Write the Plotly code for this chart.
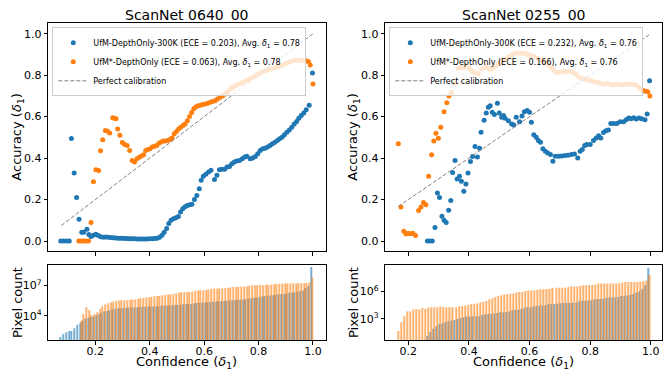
import plotly.graph_objects as go

BLUE = "#1f77b4"
ORANGE = "#ff7f0e"
FONT = "DejaVu Sans"

TITLES = ["ScanNet 0640_00", "ScanNet 0255_00"]
D1 = "<i>δ</i><sub>1</sub>"
LEG_BLUE = ["UfM-DepthOnly-300K (ECE = 0.203), Avg. " + D1 + " = 0.78",
            "UfM-DepthOnly-300K (ECE = 0.232), Avg. " + D1 + " = 0.76"]
LEG_ORANGE = ["UfM*-DepthOnly (ECE = 0.063), Avg. " + D1 + " = 0.78",
              "UfM*-DepthOnly (ECE = 0.166), Avg. " + D1 + " = 0.76"]
LEG_CAL = "Perfect calibration"

# ---- reliability scatter data (confidence, accuracy) ----
LB_X = [0.073, 0.083, 0.094, 0.104, 0.112, 0.122, 0.131, 0.140, 0.150, 0.157, 0.169, 0.176, 0.184, 0.193,
        0.202, 0.211, 0.220, 0.229, 0.238, 0.247, 0.256, 0.265, 0.274, 0.283, 0.292, 0.301, 0.310, 0.319,
        0.328, 0.337, 0.346, 0.355, 0.364, 0.373, 0.382, 0.391, 0.400, 0.409, 0.418, 0.427, 0.436, 0.445,
        0.453, 0.462, 0.470, 0.478, 0.487, 0.496, 0.505, 0.513, 0.521, 0.530, 0.538, 0.547, 0.555, 0.564,
        0.573, 0.582, 0.589, 0.597, 0.606, 0.616, 0.625, 0.638, 0.647, 0.656, 0.665, 0.675, 0.684, 0.693,
        0.702, 0.711, 0.720, 0.730, 0.740, 0.749, 0.757, 0.769, 0.778, 0.788, 0.797, 0.806, 0.815, 0.824,
        0.833, 0.842, 0.851, 0.860, 0.869, 0.877, 0.886, 0.895, 0.904, 0.913, 0.922, 0.931, 0.940, 0.948,
        0.957, 0.966, 0.975, 0.986, 0.998]
LB_Y = [0.0, 0.0, 0.0, 0.0, 0.494, 0.328, 0.21, 0.105, 0.042, 0.042, 0.057, 0.031, 0.022, 0.028,
        0.033, 0.027, 0.021, 0.018, 0.019, 0.018, 0.017, 0.016, 0.015, 0.014, 0.013, 0.013, 0.012, 0.012,
        0.011, 0.011, 0.011, 0.010, 0.010, 0.010, 0.010, 0.010, 0.011, 0.011, 0.012, 0.013, 0.018, 0.028,
        0.042, 0.060, 0.085, 0.100, 0.107, 0.112, 0.118, 0.140, 0.156, 0.165, 0.172, 0.175, 0.177, 0.200,
        0.220, 0.252, 0.293, 0.312, 0.322, 0.333, 0.341, 0.297, 0.317, 0.344, 0.346, 0.346, 0.357, 0.360,
        0.373, 0.381, 0.386, 0.389, 0.397, 0.405, 0.409, 0.397, 0.400, 0.408, 0.421, 0.437, 0.445, 0.448,
        0.453, 0.461, 0.469, 0.477, 0.485, 0.493, 0.501, 0.512, 0.525, 0.536, 0.549, 0.565, 0.577, 0.592,
        0.605, 0.618, 0.633, 0.655, 0.81]

LO_X = [0.139, 0.148, 0.157, 0.166, 0.175, 0.184, 0.193, 0.202, 0.212, 0.219, 0.227, 0.237, 0.245, 0.253,
        0.264, 0.270, 0.276, 0.282, 0.290, 0.299, 0.308, 0.317, 0.326, 0.335, 0.344, 0.353, 0.361, 0.369,
        0.377, 0.385, 0.393, 0.401, 0.409, 0.417, 0.425, 0.434, 0.442, 0.450, 0.458, 0.466, 0.474, 0.482,
        0.490, 0.498, 0.506, 0.514, 0.522, 0.530, 0.538, 0.546, 0.554, 0.562, 0.570, 0.578, 0.587, 0.595,
        0.604, 0.613, 0.622, 0.631, 0.640, 0.649, 0.659, 0.668, 0.677, 0.686, 0.696, 0.705, 0.714, 0.723,
        0.733, 0.742, 0.751, 0.760, 0.770, 0.779, 0.788, 0.797, 0.807, 0.816, 0.825, 0.834, 0.844, 0.853,
        0.862, 0.871, 0.881, 0.890, 0.900, 0.909, 0.918, 0.928, 0.937, 0.946, 0.955, 0.964, 0.974, 0.983,
        0.990, 1.000]
LO_Y = [0.0, 0.0, 0.0, 0.0, 0.0, 0.09, 0.286, 0.344, 0.340, 0.435, 0.488, 0.533, 0.529, 0.521,
        0.594, 0.592, 0.590, 0.540, 0.510, 0.475, 0.466, 0.461, 0.437, 0.389, 0.381, 0.397, 0.404, 0.410,
        0.416, 0.437, 0.441, 0.445, 0.453, 0.457, 0.461, 0.472, 0.478, 0.482, 0.482, 0.485, 0.490, 0.497,
        0.517, 0.528, 0.540, 0.549, 0.557, 0.565, 0.580, 0.600, 0.620, 0.638, 0.648, 0.653, 0.655, 0.658,
        0.661, 0.665, 0.669, 0.673, 0.677, 0.685, 0.693, 0.701, 0.709, 0.720, 0.733, 0.741, 0.749, 0.755,
        0.760, 0.765, 0.770, 0.777, 0.784, 0.790, 0.797, 0.805, 0.813, 0.817, 0.821, 0.825, 0.829, 0.833,
        0.837, 0.841, 0.845, 0.850, 0.856, 0.861, 0.866, 0.869, 0.872, 0.872, 0.872, 0.870, 0.869, 0.866,
        0.849, 0.757]

RB_X = [0.263, 0.271, 0.279, 0.288, 0.296, 0.303, 0.311, 0.318, 0.325, 0.333, 0.340, 0.346, 0.354, 0.361,
        0.369, 0.375, 0.383, 0.390, 0.397, 0.405, 0.412, 0.420, 0.428, 0.435, 0.440, 0.450, 0.457, 0.464,
        0.470, 0.477, 0.484, 0.494, 0.500, 0.508, 0.514, 0.519, 0.530, 0.541, 0.548, 0.556, 0.567, 0.575,
        0.583, 0.592, 0.600, 0.606, 0.614, 0.622, 0.629, 0.636, 0.644, 0.652, 0.660, 0.669, 0.677, 0.685,
        0.696, 0.706, 0.717, 0.727, 0.738, 0.748, 0.759, 0.767, 0.774, 0.782, 0.789, 0.800, 0.811, 0.820,
        0.828, 0.835, 0.844, 0.852, 0.860, 0.868, 0.878, 0.888, 0.899, 0.910, 0.919, 0.927, 0.935, 0.944,
        0.952, 0.961, 0.970, 0.981, 0.988, 0.996]
RB_Y = [0.0, 0.0, 0.0, 0.065, 0.232, 0.210, 0.119, 0.100, 0.090, 0.148, 0.195, 0.331, 0.389, 0.299,
        0.312, 0.288, 0.240, 0.275, 0.328, 0.384, 0.408, 0.456, 0.405, 0.448, 0.525, 0.583, 0.617, 0.645,
        0.652, 0.621, 0.610, 0.665, 0.617, 0.597, 0.605, 0.592, 0.580, 0.564, 0.560, 0.597, 0.575, 0.603,
        0.624, 0.629, 0.621, 0.573, 0.513, 0.500, 0.485, 0.477, 0.445, 0.433, 0.424, 0.417, 0.385, 0.409,
        0.409, 0.410, 0.412, 0.414, 0.417, 0.420, 0.400, 0.433, 0.442, 0.461, 0.465, 0.465, 0.485, 0.497,
        0.508, 0.497, 0.524, 0.532, 0.535, 0.567, 0.567, 0.567, 0.575, 0.575, 0.585, 0.593, 0.590, 0.595,
        0.588, 0.593, 0.590, 0.585, 0.613, 0.773]

RO_X = [0.167, 0.176, 0.185, 0.192, 0.200, 0.207, 0.215, 0.224, 0.234, 0.242, 0.250, 0.258, 0.267, 0.277,
        0.284, 0.291, 0.299, 0.307, 0.318, 0.327, 0.334, 0.342, 0.353, 0.365, 0.374, 0.383, 0.392, 0.400,
        0.408, 0.415, 0.423, 0.431, 0.440, 0.448, 0.456, 0.464, 0.472, 0.480, 0.488, 0.496, 0.504, 0.512,
        0.520, 0.528, 0.536, 0.544, 0.552, 0.560, 0.568, 0.576, 0.584, 0.592, 0.600, 0.608, 0.616, 0.624,
        0.632, 0.640, 0.648, 0.656, 0.664, 0.672, 0.680, 0.688, 0.696, 0.704, 0.712, 0.720, 0.728, 0.736,
        0.744, 0.752, 0.760, 0.768, 0.776, 0.784, 0.792, 0.800, 0.808, 0.816, 0.824, 0.832, 0.840, 0.848,
        0.856, 0.864, 0.872, 0.880, 0.888, 0.896, 0.904, 0.912, 0.920, 0.928, 0.936, 0.944, 0.952, 0.960,
        0.968, 0.976, 0.984, 0.990, 0.997]
RO_Y = [0.469, 0.164, 0.047, 0.034, 0.038, 0.035, 0.037, 0.027, 0.147, 0.164, 0.186, 0.175, 0.312, 0.416,
        0.482, 0.520, 0.496, 0.549, 0.624, 0.667, 0.699, 0.717, 0.760, 0.833, 0.838, 0.835, 0.840, 0.835,
        0.822, 0.813, 0.810, 0.807, 0.830, 0.835, 0.840, 0.833, 0.828, 0.832, 0.845, 0.855, 0.862, 0.870,
        0.877, 0.885, 0.893, 0.900, 0.905, 0.907, 0.906, 0.905, 0.905, 0.900, 0.897, 0.893, 0.889, 0.883,
        0.877, 0.872, 0.866, 0.857, 0.848, 0.835, 0.823, 0.815, 0.813, 0.815, 0.818, 0.817, 0.820, 0.818,
        0.812, 0.805, 0.795, 0.786, 0.783, 0.780, 0.776, 0.775, 0.772, 0.768, 0.764, 0.762, 0.756, 0.758,
        0.760, 0.757, 0.753, 0.755, 0.756, 0.755, 0.753, 0.755, 0.757, 0.756, 0.756, 0.755, 0.753, 0.742,
        0.730, 0.725, 0.722, 0.720, 0.700]

CAL_LEFT = [0.075, 1.0]
CAL_RIGHT = [0.167, 1.0]

# ---- pixel-count histograms (bin centres, log10 of pixel count) ----
BIN_CENTERS = [0.005, 0.015, 0.025, 0.035, 0.045, 0.055, 0.065, 0.075, 0.085, 0.095,
               0.105, 0.115, 0.125, 0.135, 0.145, 0.155, 0.165, 0.175, 0.185, 0.195,
               0.205, 0.215, 0.225, 0.235, 0.245, 0.255, 0.265, 0.275, 0.285, 0.295,
               0.305, 0.315, 0.325, 0.335, 0.345, 0.355, 0.365, 0.375, 0.385, 0.395,
               0.405, 0.415, 0.425, 0.435, 0.445, 0.455, 0.465, 0.475, 0.485, 0.495,
               0.505, 0.515, 0.525, 0.535, 0.545, 0.555, 0.565, 0.575, 0.585, 0.595,
               0.605, 0.615, 0.625, 0.635, 0.645, 0.655, 0.665, 0.675, 0.685, 0.695,
               0.705, 0.715, 0.725, 0.735, 0.745, 0.755, 0.765, 0.775, 0.785, 0.795,
               0.805, 0.815, 0.825, 0.835, 0.845, 0.855, 0.865, 0.875, 0.885, 0.895,
               0.905, 0.915, 0.925, 0.935, 0.945, 0.955, 0.965, 0.975, 0.985, 0.995]

# each list covers the last len(list) bins (ending at 0.995)
LB_LOGCOUNT = [1.93, 2.23, 2.40,
               2.53, 2.53, 2.80, 3.13, 3.33, 3.56, 3.73, 3.83, 3.90, 3.96,
               4.06, 4.16, 4.33, 4.43, 4.50, 4.56, 4.66, 4.72, 4.73, 4.75,
               4.80, 4.82, 4.83, 4.83, 4.84, 4.85, 4.88, 4.90, 4.92, 4.93,
               4.93, 4.94, 4.95, 4.97, 5.00, 5.02, 5.03, 5.04, 5.05, 5.06,
               5.08, 5.12, 5.15, 5.16, 5.18, 5.20, 5.23, 5.27, 5.30, 5.33,
               5.34, 5.35, 5.37, 5.40, 5.43, 5.45, 5.46, 5.48, 5.50, 5.52,
               5.55, 5.58, 5.60, 5.61, 5.63, 5.66, 5.72, 5.77, 5.80, 5.82,
               5.85, 5.92, 5.97, 6.00, 6.02, 6.05, 6.10, 6.14, 6.16, 6.18,
               6.22, 6.28, 6.32, 6.35, 6.40, 6.45, 6.52, 6.73, 6.95, 8.83]
LO_LOGCOUNT = [3.50, 4.16, 4.85, 4.60, 4.08, 4.20,
               4.36, 4.70, 4.96, 5.13, 5.25, 5.36, 5.43, 5.50, 5.53, 5.54,
               5.55, 5.57, 5.60, 5.63, 5.65, 5.70, 5.76, 5.80, 5.82, 5.85,
               5.90, 5.94, 5.96, 5.98, 6.05, 6.10, 6.13, 6.15, 6.18, 6.25,
               6.32, 6.34, 6.36, 6.37, 6.38, 6.40, 6.48, 6.52, 6.53, 6.55,
               6.57, 6.62, 6.68, 6.70, 6.70, 6.72, 6.73, 6.75, 6.78, 6.82,
               6.85, 6.86, 6.87, 6.88, 6.90, 6.93, 6.98, 7.02, 7.03, 7.04,
               7.05, 7.06, 7.07, 7.08, 7.10, 7.12, 7.16, 7.19, 7.20, 7.20,
               7.21, 7.21, 7.22, 7.22, 7.23, 7.23, 7.24, 7.25, 7.30, 7.80]
RO_LOGCOUNT = [1.67, 2.64, 3.29, 3.80,
               3.80, 4.02, 4.09, 4.02, 4.20, 4.09, 4.24, 4.27, 4.27, 4.27,
               4.37, 4.27, 4.27, 4.27, 4.27, 4.27, 4.38, 4.42, 4.46, 4.52,
               4.67, 4.67, 4.68, 4.80, 4.85, 4.96, 5.12, 5.25, 5.39, 5.50,
               5.60, 5.68, 5.69, 5.76, 5.78, 5.88, 5.93, 5.94, 6.05, 6.11,
               6.11, 6.12, 6.18, 6.25, 6.25, 6.26, 6.30, 6.38, 6.40, 6.40,
               6.41, 6.42, 6.50, 6.54, 6.54, 6.55, 6.60, 6.68, 6.69, 6.69,
               6.70, 6.76, 6.87, 6.87, 6.87, 6.87, 6.87, 6.87, 6.88, 6.90,
               6.98, 7.05, 7.05, 7.05, 7.05, 7.06, 7.06, 7.12, 7.20, 7.77]
RB_LOGCOUNT = [1.12, 1.56, 1.92, 2.21,
               2.43, 2.50, 2.64, 2.74, 2.82, 2.89, 3.00, 3.10, 3.18, 3.25,
               3.27, 3.29, 3.29, 3.30, 3.44, 3.50, 3.55, 3.56, 3.60, 3.66,
               3.72, 3.73, 3.74, 3.80, 3.96, 3.98, 4.00, 4.09, 4.20, 4.27,
               4.28, 4.35, 4.42, 4.45, 4.46, 4.50, 4.60, 4.63, 4.64, 4.66,
               4.72, 4.74, 4.74, 4.75, 4.76, 4.80, 4.90, 5.00, 5.00, 5.02,
               5.05, 5.12, 5.17, 5.18, 5.20, 5.28, 5.33, 5.35, 5.37, 5.40,
               5.50, 5.53, 5.55, 5.65, 5.72, 5.85, 6.00, 6.25, 6.69, 8.60]

D = "<i>δ</i><sub>1</sub>"


def bins_for(vals):
    return BIN_CENTERS[len(BIN_CENTERS) - len(vals):]


def counts(logs):
    return [10 ** v for v in logs]


fig = go.Figure()

panels = [
    dict(bx=LB_X, by=LB_Y, ox=LO_X, oy=LO_Y, cal=CAL_LEFT, xa="x", ya="y", xb="x3", yb="y3",
         leg="legend", hb=LB_LOGCOUNT, ho=LO_LOGCOUNT),
    dict(bx=RB_X, by=RB_Y, ox=RO_X, oy=RO_Y, cal=CAL_RIGHT, xa="x2", ya="y2", xb="x4", yb="y4",
         leg="legend2", hb=RB_LOGCOUNT, ho=RO_LOGCOUNT),
]

BAR_W = 0.004  # two side-by-side bars per 0.01 bin (matplotlib multi-dataset hist)

for i, p in enumerate(panels):
    fig.add_trace(go.Scatter(x=p["bx"], y=p["by"], mode="markers", name=LEG_BLUE[i],
                             marker=dict(color=BLUE, size=5, line=dict(width=0)),
                             xaxis=p["xa"], yaxis=p["ya"], legend=p["leg"]))
    fig.add_trace(go.Scatter(x=p["ox"], y=p["oy"], mode="markers", name=LEG_ORANGE[i],
                             marker=dict(color=ORANGE, size=5, line=dict(width=0)),
                             xaxis=p["xa"], yaxis=p["ya"], legend=p["leg"]))
    fig.add_trace(go.Scatter(x=p["cal"], y=p["cal"], mode="lines", name=LEG_CAL,
                             line=dict(color="gray", width=1, dash="4px,2px"),
                             xaxis=p["xa"], yaxis=p["ya"], legend=p["leg"]))
    fig.add_trace(go.Bar(x=bins_for(p["hb"]), y=counts(p["hb"]), width=BAR_W, offset=-BAR_W,
                         marker=dict(color=BLUE, line=dict(width=0)), opacity=0.6,
                         showlegend=False, xaxis=p["xb"], yaxis=p["yb"]))
    fig.add_trace(go.Bar(x=bins_for(p["ho"]), y=counts(p["ho"]), width=BAR_W, offset=0,
                         marker=dict(color=ORANGE, line=dict(width=0)), opacity=0.6,
                         showlegend=False, xaxis=p["xb"], yaxis=p["yb"]))

W, H = 672, 370
LX = [48.3 / W, 325.5 / W]
RX = [385.3 / W, 662.0 / W]
TOPY = [1 - 251.0 / H, 1 - 23.3 / H]
BOTY = [1 - 340.3 / H, 1 - 264.7 / H]

tickfont = dict(family=FONT, size=11, color="black")
common = dict(showline=True, linecolor="black", linewidth=1, mirror=True, ticks="outside",
              ticklen=3.5, tickwidth=1, tickcolor="black", showgrid=False, zeroline=False,
              tickfont=tickfont)
xt = [0.2, 0.4, 0.6, 0.8, 1.0]
yt = [0.0, 0.2, 0.4, 0.6, 0.8, 1.0]

legend_style = dict(xanchor="left", yanchor="top", bgcolor="rgba(255,255,255,0.8)",
                    bordercolor="#cccccc", borderwidth=1,
                    font=dict(family=FONT, size=8, color="black"), tracegroupgap=0)

fig.update_layout(
    width=W, height=H, margin=dict(l=0, r=0, t=0, b=0),
    paper_bgcolor="white", plot_bgcolor="white", barmode="overlay",
    font=dict(family=FONT, color="black"),
    xaxis=dict(domain=LX, range=[0.027, 1.046], tickvals=xt, showticklabels=False, anchor="y", **common),
    yaxis=dict(domain=TOPY, range=[-0.048, 1.05], tickvals=yt, tickformat=".1f", anchor="x", **common),
    xaxis2=dict(domain=RX, range=[0.124, 1.037], tickvals=xt, showticklabels=False, anchor="y2", **common),
    yaxis2=dict(domain=TOPY, range=[-0.048, 1.05], tickvals=yt, tickformat=".1f", anchor="x2", **common),
    xaxis3=dict(domain=LX, range=[0.027, 1.046], tickvals=xt, tickformat=".1f", anchor="y3",
                ticklabelstandoff=-3, **common),
    yaxis3=dict(domain=BOTY, type="log", range=[1.6, 9.06], tickvals=[1e4, 1e7],
                ticktext=["10<sup>4</sup>", "10<sup>7</sup>"], anchor="x3", **common),
    xaxis4=dict(domain=RX, range=[0.124, 1.037], tickvals=xt, tickformat=".1f", anchor="y4",
                ticklabelstandoff=-3, **common),
    yaxis4=dict(domain=BOTY, type="log", range=[0.66, 8.93], tickvals=[1e3, 1e6],
                ticktext=["10<sup>3</sup>", "10<sup>6</sup>"], anchor="x4", **common),
    legend=dict(x=52.3 / W, y=1 - 27.3 / H, **legend_style),
    legend2=dict(x=389.3 / W, y=1 - 27.3 / H, **legend_style),
)

ann = []
for cx, title in [((LX[0] + LX[1]) / 2, TITLES[0]), ((RX[0] + RX[1]) / 2, TITLES[1])]:
    ann.append(dict(x=cx, y=1 - 15.0 / H, xref="paper", yref="paper", text=title, showarrow=False,
                    xanchor="center", yanchor="middle", font=dict(family=FONT, size=14, color="black")))
    ann.append(dict(x=cx, y=1 - 362.0 / H, xref="paper", yref="paper", text="Confidence (" + D + ")",
                    showarrow=False, xanchor="center", yanchor="middle",
                    font=dict(family=FONT, size=13, color="black")))
for lx in [17.5 / W, 353.5 / W]:
    ann.append(dict(x=lx, y=(TOPY[0] + TOPY[1]) / 2, xref="paper", yref="paper", text="Accuracy (" + D + ")",
                    showarrow=False, textangle=-90, xanchor="center", yanchor="middle",
                    font=dict(family=FONT, size=13, color="black")))
    ann.append(dict(x=lx, y=(BOTY[0] + BOTY[1]) / 2, xref="paper", yref="paper", text="Pixel count",
                    showarrow=False, textangle=-90, xanchor="center", yanchor="middle",
                    font=dict(family=FONT, size=13, color="black")))
fig.update_layout(annotations=ann)

fig.write_html("out.html")
